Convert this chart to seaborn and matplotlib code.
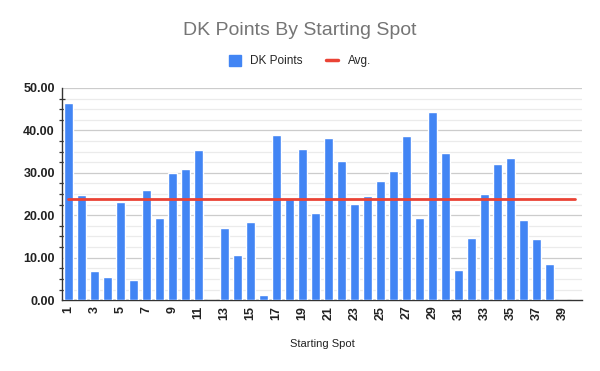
import matplotlib
matplotlib.use("Agg")
import matplotlib.pyplot as plt
import seaborn as sns
import pandas as pd
import numpy as np
from matplotlib.ticker import MultipleLocator, FormatStrFormatter
from matplotlib.lines import Line2D
from matplotlib.patches import Patch

spots = [str(i) for i in range(1, 41)]
dk_points = [46.5, 24.8, 6.85, 5.4, 23.1, 4.7, 26.0, 19.45, 30.0, 30.9,
             35.4, 0.0, 17.0, 10.6, 18.4, 1.2, 39.0, 23.9, 35.7, 20.55,
             38.3, 32.8, 22.7, 24.6, 28.1, 30.5, 38.7, 19.4, 44.4, 34.7,
             7.1, 14.6, 25.0, 32.1, 33.5, 18.9, 14.4, 8.5, 0.0, 0.0]
avg_value = 23.94
tick_labels = [s if int(s) % 2 == 1 else "" for s in spots]

df = pd.DataFrame({"spot": spots, "points": dk_points})

sns.set_theme(style="white")
plt.rcParams['font.family'] = ['Liberation Sans', 'DejaVu Sans']

fig = plt.figure(figsize=(6, 3.71), dpi=100)
ax = fig.add_axes([0.103, 0.191, 0.867, 0.572])

BLUE = "#4285F4"
RED = "#EA4335"

sns.barplot(data=df, x="spot", y="points", order=spots, color=BLUE,
            width=0.68, saturation=1, ax=ax, zorder=3)

avg_df = pd.DataFrame({"x": np.arange(len(spots)), "y": [avg_value] * len(spots)})
sns.lineplot(data=avg_df, x="x", y="y", color=RED, linewidth=2, ax=ax, zorder=4)

ax.set_xlim(-0.5, len(spots) - 0.5)
ax.set_ylim(0, 50)
ax.yaxis.set_major_locator(MultipleLocator(10))
ax.yaxis.set_minor_locator(MultipleLocator(2.5))
ax.yaxis.set_major_formatter(FormatStrFormatter("%.2f"))
ax.grid(which="major", axis="y", color="#cccccc", linewidth=0.9, zorder=0)
ax.grid(which="minor", axis="y", color="#ebebeb", linewidth=0.9, zorder=0)
ax.set_axisbelow(True)

ax.set_xticks(range(len(spots)))
ax.set_xticklabels(tick_labels, rotation=90, fontsize=9, fontweight="bold", color="#222222")
ax.tick_params(axis="x", length=0, pad=4)
ax.tick_params(axis="y", which="major", left=True, length=0, labelsize=9, pad=5, labelcolor="#222222")
ax.tick_params(axis="y", which="minor", left=True, length=5, width=0.9, color="#333333", direction="inout")
for lbl in ax.get_yticklabels():
    lbl.set_fontweight("bold")

for s in ["top", "right"]:
    ax.spines[s].set_visible(False)
for s in ["left", "bottom"]:
    ax.spines[s].set_color("#333333")
    ax.spines[s].set_linewidth(1)

ax.set_xlabel("Starting Spot", fontsize=8, color="#222222", labelpad=14)
ax.set_ylabel("")

fig.suptitle("DK Points By Starting Spot", y=0.94, fontsize=14, color="#757575")

handles = [Patch(facecolor=BLUE, edgecolor=BLUE),
           Line2D([0], [0], color=RED, linewidth=2.5)]
fig.legend(handles, ["DK Points", "Avg."], loc="center", bbox_to_anchor=(0.5, 0.835),
           ncol=2, frameon=False, fontsize=8.5, handlelength=1.0, handleheight=1.0,
           columnspacing=2.0, handletextpad=0.8)

fig.savefig("out.png", dpi=100)
